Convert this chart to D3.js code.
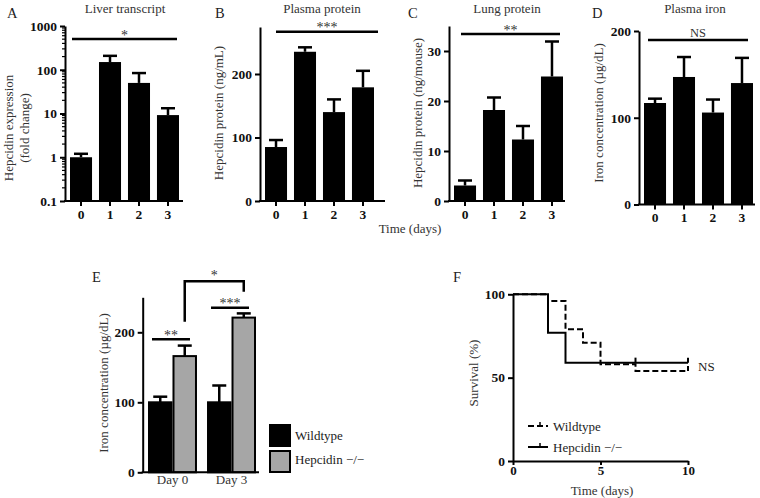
<!DOCTYPE html>
<html><head><meta charset="utf-8">
<script src="https://cdn.jsdelivr.net/npm/d3@7"></script>
<style>
body{margin:0;background:#fff}
svg{display:block}
text{font-family:"Liberation Serif","Times New Roman",serif}
</style>
</head><body><svg id="c" width="760" height="498"></svg>
<script>
// ---------- data ----------
const days = ["0", "1", "2", "3"];
const liverMean = [1, 150, 50, 9.2];
const liverErr = [0.2, 58, 34, 4];
const plasmaProteinMean = [85, 235, 140, 179];
const plasmaProteinErr = [11, 7, 20, 26];
const lungMean = [3.1, 18.2, 12.3, 24.9];
const lungErr = [1.0, 2.5, 2.7, 7.0];
const plasmaIronMean = [117, 147, 106, 140];
const plasmaIronErr = [5, 23, 15, 29];
const liverTicks = [0.1, 1, 10, 100, 1000];
const plasmaProteinTicks = [0, 100, 200];
const lungTicks = [0, 10, 20, 30];
const plasmaIronTicks = [0, 100, 200];

const eGroups = ["Day 0", "Day 3"];
const eSeries = ["Wildtype", "Hepcidin −/−"];
const eWildtypeMean = [100, 100];
const eWildtypeErr = [8, 24];
const eKnockoutMean = [166, 221];
const eKnockoutErr = [15, 6];
const eTicks = [0, 100, 200];

const fWildtypeTime = [0, 2, 3, 4, 5, 7, 10];
const fWildtypeSurv = [100, 96, 79, 71, 58, 54, 54];
const fKnockoutTime = [0, 2, 3, 10];
const fKnockoutSurv = [100, 77, 59, 59];
const fWildtypeCensor = [10];
const fKnockoutCensor = [7, 10];
const fXTicks = [0, 5, 10];
const fYTicks = [0, 50, 100];

// ---------- helpers ----------
const svg = d3.select("#c");
svg.append("rect").attr("width", 760).attr("height", 498).attr("fill", "#fff");
const TXT = "#333";
const FS = 13;

function styleAxis(a) {
  a.attr("font-family", null);
  a.selectAll(".domain").attr("stroke", "#000").attr("stroke-width", 2);
  a.selectAll(".tick line").attr("stroke", "#000").attr("stroke-width", 2);
  a.selectAll(".tick text").attr("font-size", 13.5).attr("font-weight", "bold")
    .attr("fill", "#111");
}
function text(x, y, s, o = {}) {
  const t = svg.append("text").attr("x", x).attr("y", y).text(s)
    .attr("font-size", o.size || FS).attr("fill", o.fill || TXT)
    .attr("text-anchor", o.anchor || "middle");
  if (o.weight) t.attr("font-weight", o.weight);
  return t;
}
function vtext(cx, cy, s, size) {
  svg.append("text").attr("transform", `translate(${cx},${cy}) rotate(-90)`)
    .attr("dy", "0.35em").attr("text-anchor", "middle")
    .attr("font-size", size || FS).attr("fill", TXT).text(s);
}

function barPanel(p) {
  const g = svg.append("g");
  const y = p.y;
  const y0 = y.range()[0];
  const x = d3.scaleBand().domain(days).range([p.axisX + 5, p.axisX + 114]).paddingInner(0.24);
  g.selectAll("rect.bar").data(p.mean).join("rect")
    .attr("x", (d, i) => x(days[i])).attr("width", x.bandwidth())
    .attr("y", d => y(d)).attr("height", d => y0 - y(d)).attr("fill", "#000");
  p.mean.forEach((m, i) => {
    const cx = x(days[i]) + x.bandwidth() / 2;
    const top = y(m + p.err[i]);
    g.append("line").attr("x1", cx).attr("x2", cx).attr("y1", y(m)).attr("y2", top)
      .attr("stroke", "#000").attr("stroke-width", 2.5);
    g.append("line").attr("x1", cx - 7).attr("x2", cx + 7).attr("y1", top).attr("y2", top)
      .attr("stroke", "#000").attr("stroke-width", 2.5);
  });
  const ya = g.append("g").attr("transform", `translate(${p.axisX},0)`)
    .call(d3.axisLeft(y).tickValues(p.ticks).tickFormat(p.fmt || d3.format("d"))
      .tickSize(5).tickSizeOuter(0).tickPadding(3));
  styleAxis(ya);
  if (p.minor) {
    g.selectAll("line.minor").data(p.minor).join("line")
      .attr("x1", p.axisX - 3).attr("x2", p.axisX).attr("y1", d => y(d)).attr("y2", d => y(d))
      .attr("stroke", "#000").attr("stroke-width", 1.2);
  }
  const xa = g.append("g").attr("transform", `translate(0,${y0})`)
    .call(d3.axisBottom(x).tickSize(5).tickSizeOuter(0).tickPadding(3));
  xa.select(".domain").remove();
  styleAxis(xa);
  g.append("line").attr("x1", p.axisX - 1).attr("x2", p.axisEnd).attr("y1", y0).attr("y2", y0)
    .attr("stroke", "#000").attr("stroke-width", 2);
  g.append("line").attr("x1", p.sig[0]).attr("x2", p.sig[1]).attr("y1", p.sig[2]).attr("y2", p.sig[2])
    .attr("stroke", "#000").attr("stroke-width", 2.5);
  text((p.sig[0] + p.sig[1]) / 2, p.sig[2] + (p.sigLabel === "NS" ? -3 : 0.5), p.sigLabel, { size: p.sigLabel === "NS" ? 12.5 : 14 });
  text(p.titleX, 13, p.title);
  text(p.letterX, 18, p.letter, { size: 14.5, anchor: "start", fill: "#222" });
  p.ylab.forEach((l, i) => vtext(p.ylabX + i * 16, p.ylabY, l));
}

// ---------- A ----------
const minorA = [];
[0.1, 1, 10, 100].forEach(dec => { for (let k = 2; k <= 9; k++) minorA.push(dec * k); });
barPanel({
  axisX: 65, axisEnd: 183, y: d3.scaleLog().domain([0.1, 1000]).range([201, 26]),
  mean: liverMean, err: liverErr, ticks: liverTicks, fmt: d => String(d), minor: minorA,
  sig: [72, 177, 39], sigLabel: "*", title: "Liver transcript", titleX: 125,
  letter: "A", letterX: 7, ylab: ["Hepcidin expression", "(fold change)"], ylabX: 8, ylabY: 128
});
// ---------- B ----------
barPanel({
  axisX: 260, axisEnd: 385, y: d3.scaleLinear().domain([0, 274]).range([201, 27]),
  mean: plasmaProteinMean, err: plasmaProteinErr, ticks: plasmaProteinTicks,
  sig: [276, 378, 31.7], sigLabel: "***", title: "Plasma protein", titleX: 322,
  letter: "B", letterX: 215, ylab: ["Hepcidin protein (ng/mL)"], ylabX: 218, ylabY: 113
});
// ---------- C ----------
barPanel({
  axisX: 449, axisEnd: 565, y: d3.scaleLinear().domain([0, 35]).range([201, 26]),
  mean: lungMean, err: lungErr, ticks: lungTicks,
  sig: [461, 560, 34], sigLabel: "**", title: "Lung protein", titleX: 507,
  letter: "C", letterX: 408, ylab: ["Hepcidin protein (ng/mouse)"], ylabX: 417, ylabY: 113
});
// ---------- D ----------
barPanel({
  axisX: 639, axisEnd: 755, y: d3.scaleLinear().domain([0, 200]).range([204.5, 31]),
  mean: plasmaIronMean, err: plasmaIronErr, ticks: plasmaIronTicks,
  sig: [648, 748, 40], sigLabel: "NS", title: "Plasma iron", titleX: 695,
  letter: "D", letterX: 592, ylab: ["Iron concentration (µg/dL)"], ylabX: 598, ylabY: 113
});
text(410, 233, "Time (days)");

// ---------- E ----------
{
  const g = svg.append("g");
  const y = d3.scaleLinear().domain([0, 250]).range([472.3, 297.3]);
  const x0 = d3.scaleBand().domain(eGroups).range([148, 256]).paddingInner(0.17);
  const x1 = d3.scaleBand().domain(eSeries).range([0, x0.bandwidth()]);
  const fills = ["#000", "#a6a6a6"];
  const means = [eWildtypeMean, eKnockoutMean], errs = [eWildtypeErr, eKnockoutErr];
  eSeries.forEach((s, si) => {
    eGroups.forEach((grp, gi) => {
      const m = means[si][gi], e = errs[si][gi];
      const bx = x0(grp) + x1(s);
      const cx = bx + x1.bandwidth() / 2;
      g.append("line").attr("x1", cx).attr("x2", cx).attr("y1", y(m)).attr("y2", y(m + e))
        .attr("stroke", "#000").attr("stroke-width", 2.5);
      g.append("line").attr("x1", cx - 7).attr("x2", cx + 7).attr("y1", y(m + e)).attr("y2", y(m + e))
        .attr("stroke", "#000").attr("stroke-width", 2.5);
      g.append("rect").attr("x", bx + 1).attr("width", x1.bandwidth() - 2)
        .attr("y", y(m)).attr("height", y(0) - y(m))
        .attr("fill", fills[si]).attr("stroke", "#000").attr("stroke-width", 2);
    });
  });
  const ya = g.append("g").attr("transform", "translate(142.7,0)")
    .call(d3.axisLeft(y).tickValues(eTicks).tickSize(5).tickSizeOuter(0).tickPadding(3));
  styleAxis(ya);
  g.append("line").attr("x1", 141.7).attr("x2", 259).attr("y1", y(0)).attr("y2", y(0))
    .attr("stroke", "#000").attr("stroke-width", 2);
  eGroups.forEach(grp => text(x0(grp) + x0.bandwidth() / 2, 484, grp));
  const hl = (x1_, x2_, yy) => g.append("line").attr("x1", x1_).attr("x2", x2_).attr("y1", yy).attr("y2", yy)
    .attr("stroke", "#000").attr("stroke-width", 2.5);
  const d0 = x0("Day 0"), d3_ = x0("Day 3"), bw = x0.bandwidth();
  hl(d0 + 4, d0 + bw - 7, y(190)); text(d0 + bw / 2 - 1.5, y(190) + 0.5, "**", { size: 14 });
  hl(d3_ + 4, d3_ + bw - 7, y(235)); text(d3_ + bw / 2 - 1.5, y(235) + 0.5, "***", { size: 14 });
  const k0 = d0 + x1("Hepcidin −/−") + x1.bandwidth() / 2;
  const k3 = d3_ + x1("Hepcidin −/−") + x1.bandwidth() / 2;
  g.append("path").attr("d", d3.line()([[k0, y(215)], [k0, y(273)], [k3, y(273)], [k3, y(258)]]))
    .attr("fill", "none").attr("stroke", "#000").attr("stroke-width", 2.5);
  text((k0 + k3) / 2, y(273) - 1, "*", { size: 14 });
  text(92, 282, "E", { size: 14.5, anchor: "start", fill: "#222" });
  vtext(103, 383, "Iron concentration (µg/dL)");
  eSeries.forEach((s, i) => {
    g.append("rect").attr("x", 270).attr("y", 425 + i * 26).attr("width", 20).attr("height", 21)
      .attr("fill", fills[i]).attr("stroke", "#000").attr("stroke-width", 2);
    text(295, 440 + i * 24, s, { anchor: "start", fill: "#222" });
  });
}

// ---------- F ----------
{
  const g = svg.append("g");
  const x = d3.scaleLinear().domain([0, 10]).range([513, 688]);
  const y = d3.scaleLinear().domain([0, 100]).range([461, 294.3]);
  const line = d3.line().x(d => x(d[0])).y(d => y(d[1])).curve(d3.curveStepAfter);
  const wt = fWildtypeTime.map((t, i) => [t, fWildtypeSurv[i]]);
  const ko = fKnockoutTime.map((t, i) => [t, fKnockoutSurv[i]]);
  g.append("path").attr("d", line(ko)).attr("fill", "none").attr("stroke", "#000").attr("stroke-width", 2);
  g.append("path").attr("d", line(wt)).attr("fill", "none").attr("stroke", "#000").attr("stroke-width", 2)
    .attr("stroke-dasharray", "6,3");
  const survAt = (times, surv, t) => { let s = surv[0]; times.forEach((tt, i) => { if (tt <= t) s = surv[i]; }); return s; };
  fKnockoutCensor.forEach(t => {
    const s = survAt(fKnockoutTime, fKnockoutSurv, t);
    g.append("line").attr("x1", x(t)).attr("x2", x(t)).attr("y1", y(s)).attr("y2", y(s) - 5)
      .attr("stroke", "#000").attr("stroke-width", 2);
  });
  fWildtypeCensor.forEach(t => {
    const s = survAt(fWildtypeTime, fWildtypeSurv, t);
    g.append("line").attr("x1", x(t)).attr("x2", x(t)).attr("y1", y(s)).attr("y2", y(s) - 5)
      .attr("stroke", "#000").attr("stroke-width", 2);
  });
  const ya = g.append("g").attr("transform", "translate(513,0)")
    .call(d3.axisLeft(y).tickValues(fYTicks).tickSize(5).tickSizeOuter(0).tickPadding(3));
  styleAxis(ya);
  const xa = g.append("g").attr("transform", "translate(0,461)")
    .call(d3.axisBottom(x).tickValues(fXTicks).tickSize(4).tickSizeOuter(0).tickPadding(1));
  styleAxis(xa);
  xa.selectAll(".tick text").attr("font-size", 13);
  text(698, 371, "NS", { anchor: "start", fill: "#222" });
  text(602, 495, "Time (days)");
  vtext(473, 373, "Survival (%)");
  text(453, 282, "F", { size: 14.5, anchor: "start", fill: "#222" });
  const lg = [["Wildtype", "6,3", 426], ["Hepcidin −/−", null, 447]];
  lg.forEach(([s, dash, yy]) => {
    const l = g.append("line").attr("x1", 528).attr("x2", 548).attr("y1", yy).attr("y2", yy)
      .attr("stroke", "#000").attr("stroke-width", 2);
    if (dash) l.attr("stroke-dasharray", dash);
    g.append("line").attr("x1", 540).attr("x2", 540).attr("y1", yy).attr("y2", yy - 4)
      .attr("stroke", "#000").attr("stroke-width", 1.5);
    text(553, yy + 5, s, { anchor: "start", fill: "#222" });
  });
}
</script>
</body></html>
